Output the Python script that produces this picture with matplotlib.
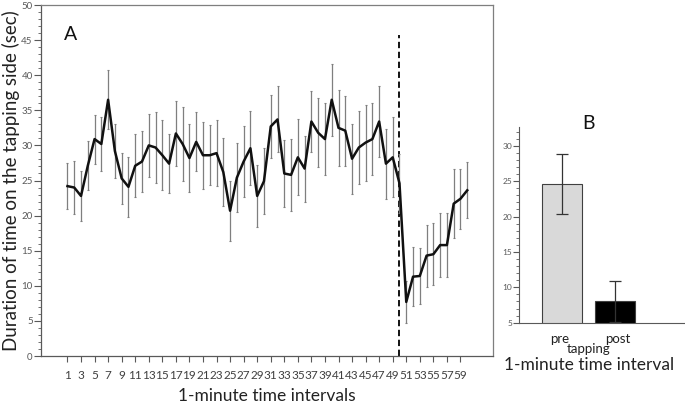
import numpy as np
import matplotlib.pyplot as plt
from matplotlib.ticker import MultipleLocator

plt.rcParams['font.family'] = ['Lato', 'DejaVu Sans']

# panel A: mean duration per 1-minute interval, with error bars
minutes = list(range(1, 61))
mean_a = [24.2, 24.0, 22.8, 27.1, 30.9, 30.2, 36.5, 29.2, 25.3, 24.1,
          27.1, 27.7, 30.0, 29.7, 28.6, 27.4, 31.7, 30.2, 28.2, 30.5,
          28.6, 28.6, 28.9, 26.2, 20.7, 25.4, 27.7, 29.6, 22.8, 24.9,
          32.7, 33.7, 26.0, 25.8, 28.3, 26.7, 33.4, 31.8, 30.9, 36.5,
          32.5, 32.1, 28.1, 29.7, 30.4, 30.9, 33.4, 27.4, 28.3, 24.6,
          7.7, 11.3, 11.4, 14.3, 14.5, 15.8, 15.8, 21.7, 22.4, 23.6]
err_a = [3.3, 3.8, 3.6, 3.5, 3.5, 3.8, 4.2, 3.9, 3.6, 4.3,
         4.5, 4.3, 4.5, 5.0, 5.0, 4.2, 4.6, 5.3, 4.8, 4.2,
         4.8, 4.3, 4.7, 4.8, 4.3, 4.9, 5.0, 5.3, 4.4, 4.7,
         4.5, 4.7, 4.8, 5.1, 5.4, 4.7, 4.4, 4.9, 5.1, 5.1,
         5.4, 5.0, 5.0, 5.2, 5.4, 5.1, 5.0, 5.0, 5.7, 4.2,
         3.0, 4.2, 4.0, 4.4, 4.4, 4.6, 4.6, 4.9, 4.3, 4.0]
tapping_at = 50
x_ticks = list(range(1, 60, 2))

# panel B: pre / post tapping
groups = ['pre', 'post']
mean_b = [24.6, 8.0]
err_b = [4.2, 2.9]

grey = '#595959'

fig = plt.figure(figsize=(6.85, 4.07), dpi=100)

# ---- panel A
ax = fig.add_axes([0.0599, 0.1253, 0.6598, 0.8624])
ax.errorbar(minutes, mean_a, yerr=err_a, color='#111111', lw=1.8,
            ecolor='#7f7f7f', elinewidth=0.9, capsize=1, capthick=0.8, zorder=3)
ax.vlines(tapping_at, 0, 45.7, colors='black', linestyles=(0, (3.5, 2)), lw=1.3)
ax.set_xlim(-2.9, 63.8)
ax.set_ylim(0, 50)
ax.set_xticks(x_ticks)
ax.set_xticklabels([str(t) for t in x_ticks])
ax.yaxis.set_major_locator(MultipleLocator(5))
ax.yaxis.set_minor_locator(MultipleLocator(1))
ax.tick_params(axis='y', which='major', direction='out', length=5, width=0.8,
               color=grey, labelsize=7, labelcolor=grey, pad=1)
ax.tick_params(axis='y', which='minor', direction='out', length=2.5, width=0.6, color=grey)
ax.tick_params(axis='x', direction='out', length=4, width=0.8, color=grey,
               labelsize=8.5, labelcolor='#404040', pad=6)
for s in ax.spines.values():
    s.set_color('#7f7f7f')
    s.set_linewidth(0.9)
ax.spines['left'].set_color(grey)
ax.spines['bottom'].set_color(grey)
ax.set_xlabel('1-minute time intervals', fontsize=12.5, color='#222222', labelpad=5)
ax.set_ylabel('Duration of time on the tapping side (sec)', fontsize=13.5,
              color='#222222', labelpad=1)
ax.text(0.065, 0.915, 'A', transform=ax.transAxes, fontsize=14,
        ha='center', va='center', color='#111111')

# ---- panel B
bx = fig.add_axes([0.758, 0.2071, 0.2405, 0.4801])
bx.bar([0, 1], mean_b, width=0.75, bottom=0, color=['#d9d9d9', 'black'],
       edgecolor='#404040', linewidth=0.8, zorder=2)
bx.errorbar([0, 1], mean_b, yerr=err_b, fmt='none', ecolor='#333333',
            elinewidth=0.9, capsize=4, capthick=0.9, zorder=3)
bx.set_ylim(5, 32.6)
bx.set_xlim(-0.81, 2.29)
bx.yaxis.set_major_locator(MultipleLocator(5))
bx.yaxis.set_minor_locator(MultipleLocator(1))
bx.tick_params(axis='y', which='major', direction='out', length=4, width=0.8,
               color=grey, labelsize=6, labelcolor=grey, pad=1)
bx.tick_params(axis='y', which='minor', direction='out', length=2, width=0.6, color=grey)
bx.set_xticks([])
bx.spines['top'].set_visible(False)
bx.spines['right'].set_visible(False)
bx.spines['left'].set_color(grey)
bx.spines['bottom'].set_color(grey)
bx.text(-0.05, -0.083, groups[0], transform=bx.get_xaxis_transform(),
        ha='center', va='center', fontsize=9.5, color='#222222')
bx.text(1.05, -0.083, groups[1], transform=bx.get_xaxis_transform(),
        ha='center', va='center', fontsize=9.5, color='#222222')
bx.text(0.5, -0.135, 'tapping', transform=bx.get_xaxis_transform(),
        ha='center', va='center', fontsize=9.5, color='#222222')
bx.text(0.5, -0.216, '1-minute time interval', transform=bx.get_xaxis_transform(),
        ha='center', va='center', fontsize=12.5, color='#222222')
bx.text(0.49, 1.018, 'B', transform=bx.get_xaxis_transform(), fontsize=14,
        ha='center', va='center', color='#111111')

fig.savefig('out.png', dpi=100)
